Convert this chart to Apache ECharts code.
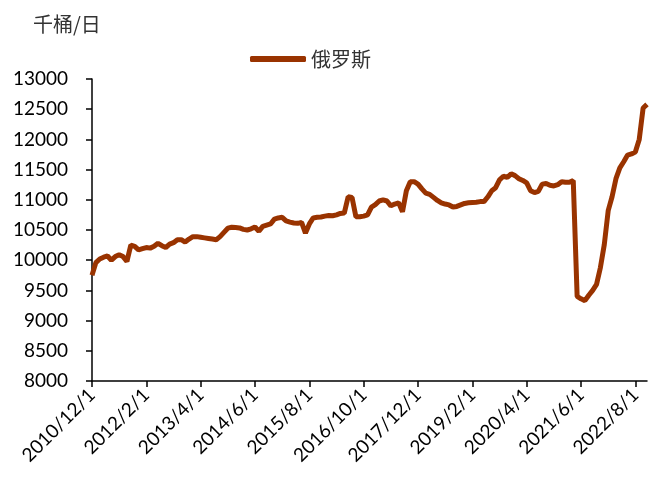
<!DOCTYPE html>
<html>
<head>
<meta charset="utf-8">
<title>俄罗斯</title>
<script src="https://cdn.jsdelivr.net/npm/echarts@6/dist/echarts.min.js"></script>
<style>
	html, body { margin: 0; padding: 0; background: #fff; }
	#chart { width: 649px; height: 482px; }
</style>
</head>
<body>
<div id="chart"></div>
<script>
//起始年月（2010/12/1起，按月）
var startYear = 2010;
var startMonth = 12;
//月份个数
var monthCount = 144;
//俄罗斯产量，千桶/日
var russiaValues = [
	9750, 9960, 10020, 10050, 10070, 10000, 10060, 10090, 10060, 9980,
	10250, 10230, 10170, 10190, 10210, 10200, 10230, 10280, 10240, 10210,
	10265, 10290, 10340, 10340, 10300, 10350, 10390, 10390, 10380, 10370,
	10360, 10350, 10340, 10390, 10460, 10530, 10545, 10540, 10535, 10510,
	10500, 10520, 10550, 10480, 10560, 10580, 10600, 10680, 10700, 10710,
	10650, 10630, 10615, 10610, 10625, 10450, 10600, 10700, 10710, 10715,
	10730, 10740, 10735, 10750, 10775, 10780, 11050, 11040, 10720, 10720,
	10730, 10750, 10880, 10920, 10980, 11000, 10980, 10900, 10930, 10950,
	10800, 11150, 11300, 11300, 11260, 11180, 11110, 11090, 11040, 10990,
	10950, 10930, 10915, 10880, 10890, 10915, 10940, 10950, 10955, 10960,
	10970, 10970, 11050, 11150, 11200, 11330, 11390, 11370, 11430, 11400,
	11350, 11320, 11280, 11150, 11120, 11140, 11260, 11270, 11240, 11230,
	11250, 11300, 11290, 11290, 11320, 9400, 9360, 9330, 9420, 9500,
	9600, 9880, 10260, 10820, 11050, 11350, 11530, 11630, 11740, 11760,
	11790, 12000, 12520, 12580
];

//横坐标日期列表
var dateList = [];
for (var i = 0; i < monthCount; i++) {
	var m = startMonth - 1 + i;
	dateList.push((startYear + Math.floor(m / 12)) + '/' + (m % 12 + 1) + '/1');
}

var chart = echarts.init(document.getElementById('chart'));
var option = {
	backgroundColor: '#fff',
	animation: false,
	//单位
	graphic: [{
		type: 'text',
		left: 33,
		top: 14,
		style: {
			text: '千桶/日',
			fill: '#333',
			font: '20px "Noto Sans CJK SC"'
		}
	}],
	//图例
	legend: {
		left: 245,
		top: 44,
		icon: 'roundRect',
		itemWidth: 56,
		itemHeight: 6,
		itemGap: 4,
		textStyle: {
			fontSize: 20,
			color: '#333',
			fontFamily: 'Noto Sans CJK SC'
		},
		data: ['俄罗斯']
	},
	grid: {
		left: 92,
		right: 2,
		top: 79,
		bottom: 101
	},
	xAxis: {
		type: 'category',
		boundaryGap: false,
		data: dateList,
		axisLine: {
			lineStyle: { color: '#000', width: 1.5 }
		},
		axisTick: {
			interval: 13,
			length: 6,
			lineStyle: { color: '#000', width: 1.5 }
		},
		axisLabel: {
			interval: 13,
			rotate: 45,
			margin: 11,
			fontSize: 19,
			color: '#000',
			fontFamily: 'Lato'
		},
		splitLine: { show: false }
	},
	yAxis: {
		type: 'value',
		min: 8000,
		max: 13000,
		interval: 500,
		axisLine: {
			show: true,
			lineStyle: { color: '#000', width: 1.5 }
		},
		axisTick: {
			show: true,
			length: 6,
			lineStyle: { color: '#000', width: 1.5 }
		},
		axisLabel: {
			margin: 24,
			fontSize: 19,
			color: '#000',
			fontFamily: 'Lato',
			formatter: function(v) {
				return String(v);
			}
		},
		splitLine: { show: false }
	},
	series: [{
		name: '俄罗斯',
		type: 'line',
		data: russiaValues,
		symbol: 'none',
		lineStyle: {
			color: '#993300',
			width: 5
		},
		itemStyle: {
			color: '#993300'
		}
	}]
};
chart.setOption(option);
</script>
</body>
</html>
